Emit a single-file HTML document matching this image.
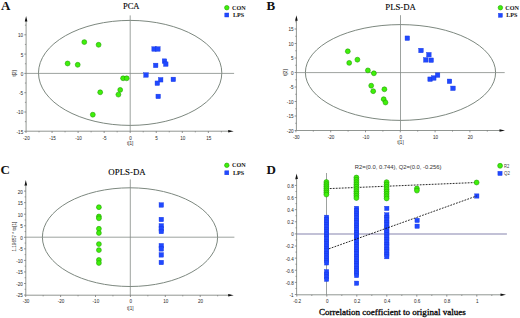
<!DOCTYPE html><html><head><meta charset="utf-8"><style>
html,body{margin:0;padding:0;background:#fff;}svg{display:block;}
.tk{font-family:"Liberation Sans",sans-serif;font-size:4.6px;fill:#262626;}
.lt{font-family:"Liberation Serif",serif;font-weight:bold;font-size:13px;fill:#111;}
.ti{font-family:"Liberation Serif",serif;font-size:8.8px;fill:#000;stroke:#000;stroke-width:0.12px;}
.lg{font-family:"Liberation Serif",serif;font-weight:bold;font-size:6.3px;fill:#111;}
.lgs{font-family:"Liberation Sans",sans-serif;font-size:4.9px;fill:#3a3a3a;}
.al{font-family:"Liberation Sans",sans-serif;font-size:4.6px;fill:#262626;}
</style></head><body>
<svg width="520" height="318" viewBox="0 0 520 318">
<rect width="520" height="318" fill="#fff"/>
<ellipse cx="130.15" cy="72.9" rx="91.65" ry="52.5" fill="none" stroke="#7d887f" stroke-width="1.0"/>
<line x1="26.1" y1="73.4" x2="234.1" y2="73.4" stroke="#848a86" stroke-width="0.8"/>
<line x1="130.2" y1="15.4" x2="130.2" y2="131.2" stroke="#848a86" stroke-width="0.8"/>
<line x1="26.1" y1="131.2" x2="230.7" y2="131.2" stroke="#848a86" stroke-width="0.9"/>
<line x1="26.1" y1="131.2" x2="26.1" y2="19.0" stroke="#848a86" stroke-width="0.9"/>
<path d="M233.7,131.2 L228.2,129.89999999999998 L228.2,132.5 Z" fill="#111"/>
<path d="M26.1,16.0 L24.8,21.5 L27.400000000000002,21.5 Z" fill="#111"/>
<line x1="26.00" y1="131.2" x2="26.00" y2="133.0" stroke="#666" stroke-width="0.7"/>
<text x="26.40" y="139.5" class="tk" text-anchor="middle">-20</text>
<line x1="52.05" y1="131.2" x2="52.05" y2="133.0" stroke="#666" stroke-width="0.7"/>
<text x="52.45" y="139.5" class="tk" text-anchor="middle">-15</text>
<line x1="78.10" y1="131.2" x2="78.10" y2="133.0" stroke="#666" stroke-width="0.7"/>
<text x="78.50" y="139.5" class="tk" text-anchor="middle">-10</text>
<line x1="104.15" y1="131.2" x2="104.15" y2="133.0" stroke="#666" stroke-width="0.7"/>
<text x="104.55" y="139.5" class="tk" text-anchor="middle">-5</text>
<line x1="130.20" y1="131.2" x2="130.20" y2="133.0" stroke="#666" stroke-width="0.7"/>
<text x="130.60" y="139.5" class="tk" text-anchor="middle">0</text>
<line x1="156.25" y1="131.2" x2="156.25" y2="133.0" stroke="#666" stroke-width="0.7"/>
<text x="156.65" y="139.5" class="tk" text-anchor="middle">5</text>
<line x1="182.30" y1="131.2" x2="182.30" y2="133.0" stroke="#666" stroke-width="0.7"/>
<text x="182.70" y="139.5" class="tk" text-anchor="middle">10</text>
<line x1="208.35" y1="131.2" x2="208.35" y2="133.0" stroke="#666" stroke-width="0.7"/>
<text x="208.75" y="139.5" class="tk" text-anchor="middle">15</text>
<line x1="39.02" y1="131.2" x2="39.02" y2="132.39999999999998" stroke="#666" stroke-width="0.6"/>
<line x1="65.07" y1="131.2" x2="65.07" y2="132.39999999999998" stroke="#666" stroke-width="0.6"/>
<line x1="91.12" y1="131.2" x2="91.12" y2="132.39999999999998" stroke="#666" stroke-width="0.6"/>
<line x1="117.17" y1="131.2" x2="117.17" y2="132.39999999999998" stroke="#666" stroke-width="0.6"/>
<line x1="143.22" y1="131.2" x2="143.22" y2="132.39999999999998" stroke="#666" stroke-width="0.6"/>
<line x1="169.27" y1="131.2" x2="169.27" y2="132.39999999999998" stroke="#666" stroke-width="0.6"/>
<line x1="195.32" y1="131.2" x2="195.32" y2="132.39999999999998" stroke="#666" stroke-width="0.6"/>
<line x1="221.38" y1="131.2" x2="221.38" y2="132.39999999999998" stroke="#666" stroke-width="0.6"/>
<line x1="26.1" y1="131.30" x2="24.3" y2="131.30" stroke="#666" stroke-width="0.7"/>
<text x="23.20" y="133.70" class="tk" text-anchor="end">-15</text>
<line x1="26.1" y1="112.00" x2="24.3" y2="112.00" stroke="#666" stroke-width="0.7"/>
<text x="23.20" y="114.40" class="tk" text-anchor="end">-10</text>
<line x1="26.1" y1="92.70" x2="24.3" y2="92.70" stroke="#666" stroke-width="0.7"/>
<text x="23.20" y="95.10" class="tk" text-anchor="end">-5</text>
<line x1="26.1" y1="73.40" x2="24.3" y2="73.40" stroke="#666" stroke-width="0.7"/>
<text x="23.20" y="75.80" class="tk" text-anchor="end">0</text>
<line x1="26.1" y1="54.10" x2="24.3" y2="54.10" stroke="#666" stroke-width="0.7"/>
<text x="23.20" y="56.50" class="tk" text-anchor="end">5</text>
<line x1="26.1" y1="34.80" x2="24.3" y2="34.80" stroke="#666" stroke-width="0.7"/>
<text x="23.20" y="37.20" class="tk" text-anchor="end">10</text>
<line x1="26.1" y1="121.65" x2="24.900000000000002" y2="121.65" stroke="#666" stroke-width="0.6"/>
<line x1="26.1" y1="102.35" x2="24.900000000000002" y2="102.35" stroke="#666" stroke-width="0.6"/>
<line x1="26.1" y1="83.05" x2="24.900000000000002" y2="83.05" stroke="#666" stroke-width="0.6"/>
<line x1="26.1" y1="63.75" x2="24.900000000000002" y2="63.75" stroke="#666" stroke-width="0.6"/>
<line x1="26.1" y1="44.45" x2="24.900000000000002" y2="44.45" stroke="#666" stroke-width="0.6"/>
<line x1="26.1" y1="25.15" x2="24.900000000000002" y2="25.15" stroke="#666" stroke-width="0.6"/>
<text x="1" y="9.8" class="lt">A</text>
<text x="131.2" y="9.3" class="ti" text-anchor="middle" textLength="16.6" lengthAdjust="spacingAndGlyphs">PCA</text>
<text x="130.2" y="144.7" class="al" text-anchor="middle">t[1]</text>
<text transform="translate(16.2,73.4) rotate(-90)" class="al" text-anchor="middle">t[2]</text>
<circle cx="84.30" cy="42.10" r="2.45" fill="#3ff00a" stroke="#1fa000" stroke-width="0.6"/>
<circle cx="98.60" cy="44.80" r="2.45" fill="#3ff00a" stroke="#1fa000" stroke-width="0.6"/>
<circle cx="67.60" cy="63.50" r="2.45" fill="#3ff00a" stroke="#1fa000" stroke-width="0.6"/>
<circle cx="77.70" cy="64.80" r="2.45" fill="#3ff00a" stroke="#1fa000" stroke-width="0.6"/>
<circle cx="123.10" cy="78.30" r="2.45" fill="#3ff00a" stroke="#1fa000" stroke-width="0.6"/>
<circle cx="126.70" cy="78.30" r="2.45" fill="#3ff00a" stroke="#1fa000" stroke-width="0.6"/>
<circle cx="100.20" cy="92.30" r="2.45" fill="#3ff00a" stroke="#1fa000" stroke-width="0.6"/>
<circle cx="120.20" cy="89.90" r="2.45" fill="#3ff00a" stroke="#1fa000" stroke-width="0.6"/>
<circle cx="118.40" cy="94.60" r="2.45" fill="#3ff00a" stroke="#1fa000" stroke-width="0.6"/>
<circle cx="92.80" cy="114.70" r="2.45" fill="#3ff00a" stroke="#1fa000" stroke-width="0.6"/>
<rect x="151.85" y="46.75" width="4.5" height="4.5" fill="#2049ff" stroke="#1634e0" stroke-width="0.4"/>
<rect x="155.65" y="46.75" width="4.5" height="4.5" fill="#2049ff" stroke="#1634e0" stroke-width="0.4"/>
<rect x="153.45" y="63.15" width="4.5" height="4.5" fill="#2049ff" stroke="#1634e0" stroke-width="0.4"/>
<rect x="162.25" y="58.85" width="4.5" height="4.5" fill="#2049ff" stroke="#1634e0" stroke-width="0.4"/>
<rect x="163.55" y="61.85" width="4.5" height="4.5" fill="#2049ff" stroke="#1634e0" stroke-width="0.4"/>
<rect x="143.75" y="72.75" width="4.5" height="4.5" fill="#2049ff" stroke="#1634e0" stroke-width="0.4"/>
<rect x="158.45" y="77.55" width="4.5" height="4.5" fill="#2049ff" stroke="#1634e0" stroke-width="0.4"/>
<rect x="155.05" y="80.95" width="4.5" height="4.5" fill="#2049ff" stroke="#1634e0" stroke-width="0.4"/>
<rect x="171.05" y="77.15" width="4.5" height="4.5" fill="#2049ff" stroke="#1634e0" stroke-width="0.4"/>
<rect x="155.95" y="94.15" width="4.5" height="4.5" fill="#2049ff" stroke="#1634e0" stroke-width="0.4"/>
<circle cx="226.80" cy="7.70" r="2.25" fill="#3ff00a" stroke="#1fa000" stroke-width="0.6"/>
<rect x="224.80" y="13.00" width="4.0" height="4.0" fill="#2049ff" stroke="#1634e0" stroke-width="0.4"/>
<text x="232" y="9.80" class="lg" textLength="13.6" lengthAdjust="spacingAndGlyphs">CON</text>
<text x="232.9" y="16.95" class="lg" textLength="11.2" lengthAdjust="spacingAndGlyphs">LPS</text>
<ellipse cx="400.5" cy="72.5" rx="95.1" ry="47.9" fill="none" stroke="#7d887f" stroke-width="1.0"/>
<line x1="296.4" y1="72.6" x2="504.7" y2="72.6" stroke="#848a86" stroke-width="0.8"/>
<line x1="400.5" y1="15.2" x2="400.5" y2="130.5" stroke="#848a86" stroke-width="0.8"/>
<line x1="296.4" y1="130.5" x2="502.0" y2="130.5" stroke="#848a86" stroke-width="0.9"/>
<line x1="296.4" y1="130.5" x2="296.4" y2="18.3" stroke="#848a86" stroke-width="0.9"/>
<path d="M505.0,130.5 L499.5,129.2 L499.5,131.8 Z" fill="#111"/>
<path d="M296.4,15.3 L295.09999999999997,20.8 L297.7,20.8 Z" fill="#111"/>
<line x1="295.90" y1="130.5" x2="295.90" y2="132.3" stroke="#666" stroke-width="0.7"/>
<text x="296.30" y="138.7" class="tk" text-anchor="middle">-30</text>
<line x1="330.70" y1="130.5" x2="330.70" y2="132.3" stroke="#666" stroke-width="0.7"/>
<text x="331.10" y="138.7" class="tk" text-anchor="middle">-20</text>
<line x1="365.50" y1="130.5" x2="365.50" y2="132.3" stroke="#666" stroke-width="0.7"/>
<text x="365.90" y="138.7" class="tk" text-anchor="middle">-10</text>
<line x1="400.30" y1="130.5" x2="400.30" y2="132.3" stroke="#666" stroke-width="0.7"/>
<text x="400.70" y="138.7" class="tk" text-anchor="middle">0</text>
<line x1="435.10" y1="130.5" x2="435.10" y2="132.3" stroke="#666" stroke-width="0.7"/>
<text x="435.50" y="138.7" class="tk" text-anchor="middle">10</text>
<line x1="469.90" y1="130.5" x2="469.90" y2="132.3" stroke="#666" stroke-width="0.7"/>
<text x="470.30" y="138.7" class="tk" text-anchor="middle">20</text>
<line x1="313.30" y1="130.5" x2="313.30" y2="131.7" stroke="#666" stroke-width="0.6"/>
<line x1="348.10" y1="130.5" x2="348.10" y2="131.7" stroke="#666" stroke-width="0.6"/>
<line x1="382.90" y1="130.5" x2="382.90" y2="131.7" stroke="#666" stroke-width="0.6"/>
<line x1="417.70" y1="130.5" x2="417.70" y2="131.7" stroke="#666" stroke-width="0.6"/>
<line x1="452.50" y1="130.5" x2="452.50" y2="131.7" stroke="#666" stroke-width="0.6"/>
<line x1="487.30" y1="130.5" x2="487.30" y2="131.7" stroke="#666" stroke-width="0.6"/>
<line x1="296.4" y1="130.50" x2="294.59999999999997" y2="130.50" stroke="#666" stroke-width="0.7"/>
<text x="293.50" y="132.90" class="tk" text-anchor="end">-20</text>
<line x1="296.4" y1="116.00" x2="294.59999999999997" y2="116.00" stroke="#666" stroke-width="0.7"/>
<text x="293.50" y="118.40" class="tk" text-anchor="end">-15</text>
<line x1="296.4" y1="101.50" x2="294.59999999999997" y2="101.50" stroke="#666" stroke-width="0.7"/>
<text x="293.50" y="103.90" class="tk" text-anchor="end">-10</text>
<line x1="296.4" y1="87.00" x2="294.59999999999997" y2="87.00" stroke="#666" stroke-width="0.7"/>
<text x="293.50" y="89.40" class="tk" text-anchor="end">-5</text>
<line x1="296.4" y1="72.50" x2="294.59999999999997" y2="72.50" stroke="#666" stroke-width="0.7"/>
<text x="293.50" y="74.90" class="tk" text-anchor="end">0</text>
<line x1="296.4" y1="58.00" x2="294.59999999999997" y2="58.00" stroke="#666" stroke-width="0.7"/>
<text x="293.50" y="60.40" class="tk" text-anchor="end">5</text>
<line x1="296.4" y1="43.50" x2="294.59999999999997" y2="43.50" stroke="#666" stroke-width="0.7"/>
<text x="293.50" y="45.90" class="tk" text-anchor="end">10</text>
<line x1="296.4" y1="29.00" x2="294.59999999999997" y2="29.00" stroke="#666" stroke-width="0.7"/>
<text x="293.50" y="31.40" class="tk" text-anchor="end">15</text>
<line x1="296.4" y1="123.25" x2="295.2" y2="123.25" stroke="#666" stroke-width="0.6"/>
<line x1="296.4" y1="108.75" x2="295.2" y2="108.75" stroke="#666" stroke-width="0.6"/>
<line x1="296.4" y1="94.25" x2="295.2" y2="94.25" stroke="#666" stroke-width="0.6"/>
<line x1="296.4" y1="79.75" x2="295.2" y2="79.75" stroke="#666" stroke-width="0.6"/>
<line x1="296.4" y1="65.25" x2="295.2" y2="65.25" stroke="#666" stroke-width="0.6"/>
<line x1="296.4" y1="50.75" x2="295.2" y2="50.75" stroke="#666" stroke-width="0.6"/>
<line x1="296.4" y1="36.25" x2="295.2" y2="36.25" stroke="#666" stroke-width="0.6"/>
<line x1="296.4" y1="21.75" x2="295.2" y2="21.75" stroke="#666" stroke-width="0.6"/>
<text x="266.5" y="9.8" class="lt">B</text>
<text x="400.6" y="9.8" class="ti" text-anchor="middle" textLength="30.6" lengthAdjust="spacingAndGlyphs">PLS-DA</text>
<text x="400.5" y="144.4" class="al" text-anchor="middle">t[1]</text>
<text transform="translate(286.6,72.5) rotate(-90)" class="al" text-anchor="middle">t[2]</text>
<circle cx="347.80" cy="51.30" r="2.45" fill="#3ff00a" stroke="#1fa000" stroke-width="0.6"/>
<circle cx="349.20" cy="62.90" r="2.45" fill="#3ff00a" stroke="#1fa000" stroke-width="0.6"/>
<circle cx="357.40" cy="59.70" r="2.45" fill="#3ff00a" stroke="#1fa000" stroke-width="0.6"/>
<circle cx="367.90" cy="70.40" r="2.45" fill="#3ff00a" stroke="#1fa000" stroke-width="0.6"/>
<circle cx="373.90" cy="73.30" r="2.45" fill="#3ff00a" stroke="#1fa000" stroke-width="0.6"/>
<circle cx="371.20" cy="85.70" r="2.45" fill="#3ff00a" stroke="#1fa000" stroke-width="0.6"/>
<circle cx="373.20" cy="91.20" r="2.45" fill="#3ff00a" stroke="#1fa000" stroke-width="0.6"/>
<circle cx="384.40" cy="89.30" r="2.45" fill="#3ff00a" stroke="#1fa000" stroke-width="0.6"/>
<circle cx="383.70" cy="99.20" r="2.45" fill="#3ff00a" stroke="#1fa000" stroke-width="0.6"/>
<circle cx="385.50" cy="102.50" r="2.45" fill="#3ff00a" stroke="#1fa000" stroke-width="0.6"/>
<rect x="405.05" y="35.95" width="4.5" height="4.5" fill="#2049ff" stroke="#1634e0" stroke-width="0.4"/>
<rect x="418.75" y="48.25" width="4.5" height="4.5" fill="#2049ff" stroke="#1634e0" stroke-width="0.4"/>
<rect x="426.65" y="52.45" width="4.5" height="4.5" fill="#2049ff" stroke="#1634e0" stroke-width="0.4"/>
<rect x="423.55" y="57.65" width="4.5" height="4.5" fill="#2049ff" stroke="#1634e0" stroke-width="0.4"/>
<rect x="428.95" y="57.95" width="4.5" height="4.5" fill="#2049ff" stroke="#1634e0" stroke-width="0.4"/>
<rect x="427.85" y="76.95" width="4.5" height="4.5" fill="#2049ff" stroke="#1634e0" stroke-width="0.4"/>
<rect x="431.55" y="75.75" width="4.5" height="4.5" fill="#2049ff" stroke="#1634e0" stroke-width="0.4"/>
<rect x="435.35" y="72.85" width="4.5" height="4.5" fill="#2049ff" stroke="#1634e0" stroke-width="0.4"/>
<rect x="447.25" y="79.05" width="4.5" height="4.5" fill="#2049ff" stroke="#1634e0" stroke-width="0.4"/>
<rect x="450.75" y="86.05" width="4.5" height="4.5" fill="#2049ff" stroke="#1634e0" stroke-width="0.4"/>
<circle cx="500.40" cy="7.70" r="2.25" fill="#3ff00a" stroke="#1fa000" stroke-width="0.6"/>
<rect x="498.40" y="13.30" width="4.0" height="4.0" fill="#2049ff" stroke="#1634e0" stroke-width="0.4"/>
<text x="505.3" y="9.80" class="lg" textLength="13.6" lengthAdjust="spacingAndGlyphs">CON</text>
<text x="506.2" y="17.25" class="lg" textLength="11.2" lengthAdjust="spacingAndGlyphs">LPS</text>
<ellipse cx="130" cy="237.15" rx="87.6" ry="49.35" fill="none" stroke="#7d887f" stroke-width="1.0"/>
<line x1="25.8" y1="237.2" x2="234.4" y2="237.2" stroke="#848a86" stroke-width="0.8"/>
<line x1="130.3" y1="179.4" x2="130.3" y2="295.2" stroke="#848a86" stroke-width="0.8"/>
<line x1="25.8" y1="295.2" x2="230.7" y2="295.2" stroke="#848a86" stroke-width="0.9"/>
<line x1="25.8" y1="295.2" x2="25.8" y2="183.0" stroke="#848a86" stroke-width="0.9"/>
<path d="M233.7,295.2 L228.2,293.9 L228.2,296.5 Z" fill="#111"/>
<path d="M25.8,180.0 L24.5,185.5 L27.1,185.5 Z" fill="#111"/>
<line x1="25.70" y1="295.2" x2="25.70" y2="297.0" stroke="#666" stroke-width="0.7"/>
<text x="26.10" y="302.9" class="tk" text-anchor="middle">-30</text>
<line x1="60.60" y1="295.2" x2="60.60" y2="297.0" stroke="#666" stroke-width="0.7"/>
<text x="61.00" y="302.9" class="tk" text-anchor="middle">-20</text>
<line x1="95.50" y1="295.2" x2="95.50" y2="297.0" stroke="#666" stroke-width="0.7"/>
<text x="95.90" y="302.9" class="tk" text-anchor="middle">-10</text>
<line x1="130.40" y1="295.2" x2="130.40" y2="297.0" stroke="#666" stroke-width="0.7"/>
<text x="130.80" y="302.9" class="tk" text-anchor="middle">0</text>
<line x1="165.30" y1="295.2" x2="165.30" y2="297.0" stroke="#666" stroke-width="0.7"/>
<text x="165.70" y="302.9" class="tk" text-anchor="middle">10</text>
<line x1="200.20" y1="295.2" x2="200.20" y2="297.0" stroke="#666" stroke-width="0.7"/>
<text x="200.60" y="302.9" class="tk" text-anchor="middle">20</text>
<line x1="43.15" y1="295.2" x2="43.15" y2="296.4" stroke="#666" stroke-width="0.6"/>
<line x1="78.05" y1="295.2" x2="78.05" y2="296.4" stroke="#666" stroke-width="0.6"/>
<line x1="112.95" y1="295.2" x2="112.95" y2="296.4" stroke="#666" stroke-width="0.6"/>
<line x1="147.85" y1="295.2" x2="147.85" y2="296.4" stroke="#666" stroke-width="0.6"/>
<line x1="182.75" y1="295.2" x2="182.75" y2="296.4" stroke="#666" stroke-width="0.6"/>
<line x1="217.65" y1="295.2" x2="217.65" y2="296.4" stroke="#666" stroke-width="0.6"/>
<line x1="25.8" y1="295.05" x2="24.0" y2="295.05" stroke="#666" stroke-width="0.7"/>
<text x="22.90" y="297.45" class="tk" text-anchor="end">-25</text>
<line x1="25.8" y1="283.50" x2="24.0" y2="283.50" stroke="#666" stroke-width="0.7"/>
<text x="22.90" y="285.90" class="tk" text-anchor="end">-20</text>
<line x1="25.8" y1="271.95" x2="24.0" y2="271.95" stroke="#666" stroke-width="0.7"/>
<text x="22.90" y="274.35" class="tk" text-anchor="end">-15</text>
<line x1="25.8" y1="260.40" x2="24.0" y2="260.40" stroke="#666" stroke-width="0.7"/>
<text x="22.90" y="262.80" class="tk" text-anchor="end">-10</text>
<line x1="25.8" y1="248.85" x2="24.0" y2="248.85" stroke="#666" stroke-width="0.7"/>
<text x="22.90" y="251.25" class="tk" text-anchor="end">-5</text>
<line x1="25.8" y1="237.30" x2="24.0" y2="237.30" stroke="#666" stroke-width="0.7"/>
<text x="22.90" y="239.70" class="tk" text-anchor="end">0</text>
<line x1="25.8" y1="225.75" x2="24.0" y2="225.75" stroke="#666" stroke-width="0.7"/>
<text x="22.90" y="228.15" class="tk" text-anchor="end">5</text>
<line x1="25.8" y1="214.20" x2="24.0" y2="214.20" stroke="#666" stroke-width="0.7"/>
<text x="22.90" y="216.60" class="tk" text-anchor="end">10</text>
<line x1="25.8" y1="202.65" x2="24.0" y2="202.65" stroke="#666" stroke-width="0.7"/>
<text x="22.90" y="205.05" class="tk" text-anchor="end">15</text>
<line x1="25.8" y1="191.10" x2="24.0" y2="191.10" stroke="#666" stroke-width="0.7"/>
<text x="22.90" y="193.50" class="tk" text-anchor="end">20</text>
<line x1="25.8" y1="289.28" x2="24.6" y2="289.28" stroke="#666" stroke-width="0.6"/>
<line x1="25.8" y1="277.73" x2="24.6" y2="277.73" stroke="#666" stroke-width="0.6"/>
<line x1="25.8" y1="266.18" x2="24.6" y2="266.18" stroke="#666" stroke-width="0.6"/>
<line x1="25.8" y1="254.62" x2="24.6" y2="254.62" stroke="#666" stroke-width="0.6"/>
<line x1="25.8" y1="243.08" x2="24.6" y2="243.08" stroke="#666" stroke-width="0.6"/>
<line x1="25.8" y1="231.53" x2="24.6" y2="231.53" stroke="#666" stroke-width="0.6"/>
<line x1="25.8" y1="219.98" x2="24.6" y2="219.98" stroke="#666" stroke-width="0.6"/>
<line x1="25.8" y1="208.43" x2="24.6" y2="208.43" stroke="#666" stroke-width="0.6"/>
<line x1="25.8" y1="196.88" x2="24.6" y2="196.88" stroke="#666" stroke-width="0.6"/>
<line x1="25.8" y1="185.33" x2="24.6" y2="185.33" stroke="#666" stroke-width="0.6"/>
<text x="0.5" y="174.3" class="lt">C</text>
<text x="127" y="174.6" class="ti" text-anchor="middle" textLength="37.3" lengthAdjust="spacingAndGlyphs">OPLS-DA</text>
<text x="130.3" y="309.8" class="al" text-anchor="middle">t[1]</text>
<text transform="translate(15.6,236.6) rotate(-90)" class="al" text-anchor="middle">1.19657 * to[1]</text>
<circle cx="98.90" cy="207.20" r="2.45" fill="#3ff00a" stroke="#1fa000" stroke-width="0.6"/>
<circle cx="98.90" cy="216.50" r="2.45" fill="#3ff00a" stroke="#1fa000" stroke-width="0.6"/>
<circle cx="98.90" cy="218.30" r="2.45" fill="#3ff00a" stroke="#1fa000" stroke-width="0.6"/>
<circle cx="98.90" cy="228.80" r="2.45" fill="#3ff00a" stroke="#1fa000" stroke-width="0.6"/>
<circle cx="98.90" cy="233.00" r="2.45" fill="#3ff00a" stroke="#1fa000" stroke-width="0.6"/>
<circle cx="98.90" cy="244.10" r="2.45" fill="#3ff00a" stroke="#1fa000" stroke-width="0.6"/>
<circle cx="98.90" cy="250.10" r="2.45" fill="#3ff00a" stroke="#1fa000" stroke-width="0.6"/>
<circle cx="98.90" cy="260.00" r="2.45" fill="#3ff00a" stroke="#1fa000" stroke-width="0.6"/>
<circle cx="98.90" cy="263.00" r="2.45" fill="#3ff00a" stroke="#1fa000" stroke-width="0.6"/>
<rect x="159.05" y="202.75" width="4.5" height="4.5" fill="#2049ff" stroke="#1634e0" stroke-width="0.4"/>
<rect x="159.05" y="217.25" width="4.5" height="4.5" fill="#2049ff" stroke="#1634e0" stroke-width="0.4"/>
<rect x="159.05" y="223.65" width="4.5" height="4.5" fill="#2049ff" stroke="#1634e0" stroke-width="0.4"/>
<rect x="159.05" y="226.55" width="4.5" height="4.5" fill="#2049ff" stroke="#1634e0" stroke-width="0.4"/>
<rect x="159.05" y="229.25" width="4.5" height="4.5" fill="#2049ff" stroke="#1634e0" stroke-width="0.4"/>
<rect x="159.05" y="243.45" width="4.5" height="4.5" fill="#2049ff" stroke="#1634e0" stroke-width="0.4"/>
<rect x="159.05" y="246.65" width="4.5" height="4.5" fill="#2049ff" stroke="#1634e0" stroke-width="0.4"/>
<rect x="159.05" y="252.65" width="4.5" height="4.5" fill="#2049ff" stroke="#1634e0" stroke-width="0.4"/>
<rect x="159.05" y="260.25" width="4.5" height="4.5" fill="#2049ff" stroke="#1634e0" stroke-width="0.4"/>
<circle cx="226.80" cy="165.30" r="2.25" fill="#3ff00a" stroke="#1fa000" stroke-width="0.6"/>
<rect x="224.80" y="170.80" width="4.0" height="4.0" fill="#2049ff" stroke="#1634e0" stroke-width="0.4"/>
<text x="232" y="167.40" class="lg" textLength="13.6" lengthAdjust="spacingAndGlyphs">CON</text>
<text x="232.9" y="174.75" class="lg" textLength="11.2" lengthAdjust="spacingAndGlyphs">LPS</text>
<line x1="296.6" y1="234" x2="506.9" y2="234" stroke="#aeadc8" stroke-width="1.5"/>
<line x1="326.5" y1="173" x2="326.5" y2="294.8" stroke="#848a86" stroke-width="0.8"/>
<line x1="296.6" y1="294.8" x2="503.0" y2="294.8" stroke="#848a86" stroke-width="0.9"/>
<line x1="296.6" y1="294.8" x2="296.6" y2="176.6" stroke="#848a86" stroke-width="0.9"/>
<path d="M506.0,294.8 L500.5,293.5 L500.5,296.1 Z" fill="#111"/>
<path d="M296.6,173.6 L295.3,179.1 L297.90000000000003,179.1 Z" fill="#111"/>
<line x1="296.80" y1="294.8" x2="296.80" y2="296.6" stroke="#666" stroke-width="0.7"/>
<text x="297.20" y="302.8" class="tk" text-anchor="middle">-0.2</text>
<line x1="326.80" y1="294.8" x2="326.80" y2="296.6" stroke="#666" stroke-width="0.7"/>
<text x="327.20" y="302.8" class="tk" text-anchor="middle">0</text>
<line x1="356.80" y1="294.8" x2="356.80" y2="296.6" stroke="#666" stroke-width="0.7"/>
<text x="357.20" y="302.8" class="tk" text-anchor="middle">0.2</text>
<line x1="386.80" y1="294.8" x2="386.80" y2="296.6" stroke="#666" stroke-width="0.7"/>
<text x="387.20" y="302.8" class="tk" text-anchor="middle">0.4</text>
<line x1="416.80" y1="294.8" x2="416.80" y2="296.6" stroke="#666" stroke-width="0.7"/>
<text x="417.20" y="302.8" class="tk" text-anchor="middle">0.6</text>
<line x1="446.80" y1="294.8" x2="446.80" y2="296.6" stroke="#666" stroke-width="0.7"/>
<text x="447.20" y="302.8" class="tk" text-anchor="middle">0.8</text>
<line x1="476.80" y1="294.8" x2="476.80" y2="296.6" stroke="#666" stroke-width="0.7"/>
<text x="477.20" y="302.8" class="tk" text-anchor="middle">1</text>
<line x1="311.80" y1="294.8" x2="311.80" y2="296.0" stroke="#666" stroke-width="0.6"/>
<line x1="341.80" y1="294.8" x2="341.80" y2="296.0" stroke="#666" stroke-width="0.6"/>
<line x1="371.80" y1="294.8" x2="371.80" y2="296.0" stroke="#666" stroke-width="0.6"/>
<line x1="401.80" y1="294.8" x2="401.80" y2="296.0" stroke="#666" stroke-width="0.6"/>
<line x1="431.80" y1="294.8" x2="431.80" y2="296.0" stroke="#666" stroke-width="0.6"/>
<line x1="461.80" y1="294.8" x2="461.80" y2="296.0" stroke="#666" stroke-width="0.6"/>
<line x1="491.80" y1="294.8" x2="491.80" y2="296.0" stroke="#666" stroke-width="0.6"/>
<line x1="296.6" y1="294.50" x2="294.8" y2="294.50" stroke="#666" stroke-width="0.7"/>
<text x="293.70" y="296.90" class="tk" text-anchor="end">-1</text>
<line x1="296.6" y1="282.38" x2="294.8" y2="282.38" stroke="#666" stroke-width="0.7"/>
<text x="293.70" y="284.78" class="tk" text-anchor="end">-0.8</text>
<line x1="296.6" y1="270.26" x2="294.8" y2="270.26" stroke="#666" stroke-width="0.7"/>
<text x="293.70" y="272.66" class="tk" text-anchor="end">-0.6</text>
<line x1="296.6" y1="258.14" x2="294.8" y2="258.14" stroke="#666" stroke-width="0.7"/>
<text x="293.70" y="260.54" class="tk" text-anchor="end">-0.4</text>
<line x1="296.6" y1="246.02" x2="294.8" y2="246.02" stroke="#666" stroke-width="0.7"/>
<text x="293.70" y="248.42" class="tk" text-anchor="end">-0.2</text>
<line x1="296.6" y1="233.90" x2="294.8" y2="233.90" stroke="#666" stroke-width="0.7"/>
<text x="293.70" y="236.30" class="tk" text-anchor="end">0</text>
<line x1="296.6" y1="221.78" x2="294.8" y2="221.78" stroke="#666" stroke-width="0.7"/>
<text x="293.70" y="224.18" class="tk" text-anchor="end">0.2</text>
<line x1="296.6" y1="209.66" x2="294.8" y2="209.66" stroke="#666" stroke-width="0.7"/>
<text x="293.70" y="212.06" class="tk" text-anchor="end">0.4</text>
<line x1="296.6" y1="197.54" x2="294.8" y2="197.54" stroke="#666" stroke-width="0.7"/>
<text x="293.70" y="199.94" class="tk" text-anchor="end">0.6</text>
<line x1="296.6" y1="185.42" x2="294.8" y2="185.42" stroke="#666" stroke-width="0.7"/>
<text x="293.70" y="187.82" class="tk" text-anchor="end">0.8</text>
<line x1="296.6" y1="288.44" x2="295.40000000000003" y2="288.44" stroke="#666" stroke-width="0.6"/>
<line x1="296.6" y1="276.32" x2="295.40000000000003" y2="276.32" stroke="#666" stroke-width="0.6"/>
<line x1="296.6" y1="264.20" x2="295.40000000000003" y2="264.20" stroke="#666" stroke-width="0.6"/>
<line x1="296.6" y1="252.08" x2="295.40000000000003" y2="252.08" stroke="#666" stroke-width="0.6"/>
<line x1="296.6" y1="239.96" x2="295.40000000000003" y2="239.96" stroke="#666" stroke-width="0.6"/>
<line x1="296.6" y1="227.84" x2="295.40000000000003" y2="227.84" stroke="#666" stroke-width="0.6"/>
<line x1="296.6" y1="215.72" x2="295.40000000000003" y2="215.72" stroke="#666" stroke-width="0.6"/>
<line x1="296.6" y1="203.60" x2="295.40000000000003" y2="203.60" stroke="#666" stroke-width="0.6"/>
<line x1="296.6" y1="191.48" x2="295.40000000000003" y2="191.48" stroke="#666" stroke-width="0.6"/>
<line x1="296.6" y1="179.36" x2="295.40000000000003" y2="179.36" stroke="#666" stroke-width="0.6"/>
<text x="266.5" y="174.3" class="lt">D</text>
<text x="354.8" y="168.8" style="font-family:'Liberation Sans',sans-serif;font-size:6.2px;fill:#333" textLength="86.7" lengthAdjust="spacingAndGlyphs">R2=(0.0, 0.744), Q2=(0.0, -0.256)</text>
<text x="318.9" y="315.4" style="font-family:'Liberation Serif',serif;font-size:9px;fill:#000;stroke:#000;stroke-width:0.3px" textLength="146.9" lengthAdjust="spacingAndGlyphs">Correlation coefficient to original values</text>
<rect x="324.45" y="215.15" width="4.3" height="4.3" fill="#2049ff" stroke="#1634e0" stroke-width="0.4"/>
<rect x="324.45" y="217.55" width="4.3" height="4.3" fill="#2049ff" stroke="#1634e0" stroke-width="0.4"/>
<rect x="324.45" y="219.95" width="4.3" height="4.3" fill="#2049ff" stroke="#1634e0" stroke-width="0.4"/>
<rect x="324.45" y="222.35" width="4.3" height="4.3" fill="#2049ff" stroke="#1634e0" stroke-width="0.4"/>
<rect x="324.45" y="224.75" width="4.3" height="4.3" fill="#2049ff" stroke="#1634e0" stroke-width="0.4"/>
<rect x="324.45" y="227.15" width="4.3" height="4.3" fill="#2049ff" stroke="#1634e0" stroke-width="0.4"/>
<rect x="324.45" y="229.55" width="4.3" height="4.3" fill="#2049ff" stroke="#1634e0" stroke-width="0.4"/>
<rect x="324.45" y="231.95" width="4.3" height="4.3" fill="#2049ff" stroke="#1634e0" stroke-width="0.4"/>
<rect x="324.45" y="234.35" width="4.3" height="4.3" fill="#2049ff" stroke="#1634e0" stroke-width="0.4"/>
<rect x="324.45" y="236.75" width="4.3" height="4.3" fill="#2049ff" stroke="#1634e0" stroke-width="0.4"/>
<rect x="324.45" y="239.15" width="4.3" height="4.3" fill="#2049ff" stroke="#1634e0" stroke-width="0.4"/>
<rect x="324.45" y="241.55" width="4.3" height="4.3" fill="#2049ff" stroke="#1634e0" stroke-width="0.4"/>
<rect x="324.45" y="243.95" width="4.3" height="4.3" fill="#2049ff" stroke="#1634e0" stroke-width="0.4"/>
<rect x="324.45" y="246.35" width="4.3" height="4.3" fill="#2049ff" stroke="#1634e0" stroke-width="0.4"/>
<rect x="324.45" y="248.75" width="4.3" height="4.3" fill="#2049ff" stroke="#1634e0" stroke-width="0.4"/>
<rect x="324.45" y="251.15" width="4.3" height="4.3" fill="#2049ff" stroke="#1634e0" stroke-width="0.4"/>
<rect x="324.45" y="253.55" width="4.3" height="4.3" fill="#2049ff" stroke="#1634e0" stroke-width="0.4"/>
<rect x="324.45" y="255.95" width="4.3" height="4.3" fill="#2049ff" stroke="#1634e0" stroke-width="0.4"/>
<rect x="324.45" y="258.35" width="4.3" height="4.3" fill="#2049ff" stroke="#1634e0" stroke-width="0.4"/>
<rect x="324.45" y="260.75" width="4.3" height="4.3" fill="#2049ff" stroke="#1634e0" stroke-width="0.4"/>
<rect x="324.45" y="269.55" width="4.3" height="4.3" fill="#2049ff" stroke="#1634e0" stroke-width="0.4"/>
<rect x="324.45" y="272.08" width="4.3" height="4.3" fill="#2049ff" stroke="#1634e0" stroke-width="0.4"/>
<rect x="324.45" y="274.62" width="4.3" height="4.3" fill="#2049ff" stroke="#1634e0" stroke-width="0.4"/>
<rect x="324.45" y="277.15" width="4.3" height="4.3" fill="#2049ff" stroke="#1634e0" stroke-width="0.4"/>
<rect x="354.45" y="206.25" width="4.3" height="4.3" fill="#2049ff" stroke="#1634e0" stroke-width="0.4"/>
<rect x="354.45" y="208.65" width="4.3" height="4.3" fill="#2049ff" stroke="#1634e0" stroke-width="0.4"/>
<rect x="354.45" y="211.04" width="4.3" height="4.3" fill="#2049ff" stroke="#1634e0" stroke-width="0.4"/>
<rect x="354.45" y="213.44" width="4.3" height="4.3" fill="#2049ff" stroke="#1634e0" stroke-width="0.4"/>
<rect x="354.45" y="215.84" width="4.3" height="4.3" fill="#2049ff" stroke="#1634e0" stroke-width="0.4"/>
<rect x="354.45" y="218.23" width="4.3" height="4.3" fill="#2049ff" stroke="#1634e0" stroke-width="0.4"/>
<rect x="354.45" y="220.63" width="4.3" height="4.3" fill="#2049ff" stroke="#1634e0" stroke-width="0.4"/>
<rect x="354.45" y="223.03" width="4.3" height="4.3" fill="#2049ff" stroke="#1634e0" stroke-width="0.4"/>
<rect x="354.45" y="225.42" width="4.3" height="4.3" fill="#2049ff" stroke="#1634e0" stroke-width="0.4"/>
<rect x="354.45" y="227.82" width="4.3" height="4.3" fill="#2049ff" stroke="#1634e0" stroke-width="0.4"/>
<rect x="354.45" y="230.21" width="4.3" height="4.3" fill="#2049ff" stroke="#1634e0" stroke-width="0.4"/>
<rect x="354.45" y="232.61" width="4.3" height="4.3" fill="#2049ff" stroke="#1634e0" stroke-width="0.4"/>
<rect x="354.45" y="235.01" width="4.3" height="4.3" fill="#2049ff" stroke="#1634e0" stroke-width="0.4"/>
<rect x="354.45" y="237.40" width="4.3" height="4.3" fill="#2049ff" stroke="#1634e0" stroke-width="0.4"/>
<rect x="354.45" y="239.80" width="4.3" height="4.3" fill="#2049ff" stroke="#1634e0" stroke-width="0.4"/>
<rect x="354.45" y="242.20" width="4.3" height="4.3" fill="#2049ff" stroke="#1634e0" stroke-width="0.4"/>
<rect x="354.45" y="244.59" width="4.3" height="4.3" fill="#2049ff" stroke="#1634e0" stroke-width="0.4"/>
<rect x="354.45" y="246.99" width="4.3" height="4.3" fill="#2049ff" stroke="#1634e0" stroke-width="0.4"/>
<rect x="354.45" y="249.39" width="4.3" height="4.3" fill="#2049ff" stroke="#1634e0" stroke-width="0.4"/>
<rect x="354.45" y="251.78" width="4.3" height="4.3" fill="#2049ff" stroke="#1634e0" stroke-width="0.4"/>
<rect x="354.45" y="254.18" width="4.3" height="4.3" fill="#2049ff" stroke="#1634e0" stroke-width="0.4"/>
<rect x="354.45" y="256.58" width="4.3" height="4.3" fill="#2049ff" stroke="#1634e0" stroke-width="0.4"/>
<rect x="354.45" y="258.97" width="4.3" height="4.3" fill="#2049ff" stroke="#1634e0" stroke-width="0.4"/>
<rect x="354.45" y="261.37" width="4.3" height="4.3" fill="#2049ff" stroke="#1634e0" stroke-width="0.4"/>
<rect x="354.45" y="263.76" width="4.3" height="4.3" fill="#2049ff" stroke="#1634e0" stroke-width="0.4"/>
<rect x="354.45" y="266.16" width="4.3" height="4.3" fill="#2049ff" stroke="#1634e0" stroke-width="0.4"/>
<rect x="354.45" y="268.56" width="4.3" height="4.3" fill="#2049ff" stroke="#1634e0" stroke-width="0.4"/>
<rect x="354.45" y="270.95" width="4.3" height="4.3" fill="#2049ff" stroke="#1634e0" stroke-width="0.4"/>
<rect x="354.45" y="273.35" width="4.3" height="4.3" fill="#2049ff" stroke="#1634e0" stroke-width="0.4"/>
<rect x="354.45" y="281.05" width="4.3" height="4.3" fill="#2049ff" stroke="#1634e0" stroke-width="0.4"/>
<rect x="384.65" y="206.25" width="4.3" height="4.3" fill="#2049ff" stroke="#1634e0" stroke-width="0.4"/>
<rect x="384.65" y="212.75" width="4.3" height="4.3" fill="#2049ff" stroke="#1634e0" stroke-width="0.4"/>
<rect x="384.65" y="215.21" width="4.3" height="4.3" fill="#2049ff" stroke="#1634e0" stroke-width="0.4"/>
<rect x="384.65" y="217.67" width="4.3" height="4.3" fill="#2049ff" stroke="#1634e0" stroke-width="0.4"/>
<rect x="384.65" y="220.13" width="4.3" height="4.3" fill="#2049ff" stroke="#1634e0" stroke-width="0.4"/>
<rect x="384.65" y="222.59" width="4.3" height="4.3" fill="#2049ff" stroke="#1634e0" stroke-width="0.4"/>
<rect x="384.65" y="225.04" width="4.3" height="4.3" fill="#2049ff" stroke="#1634e0" stroke-width="0.4"/>
<rect x="384.65" y="227.50" width="4.3" height="4.3" fill="#2049ff" stroke="#1634e0" stroke-width="0.4"/>
<rect x="384.65" y="229.96" width="4.3" height="4.3" fill="#2049ff" stroke="#1634e0" stroke-width="0.4"/>
<rect x="384.65" y="232.42" width="4.3" height="4.3" fill="#2049ff" stroke="#1634e0" stroke-width="0.4"/>
<rect x="384.65" y="234.88" width="4.3" height="4.3" fill="#2049ff" stroke="#1634e0" stroke-width="0.4"/>
<rect x="384.65" y="237.34" width="4.3" height="4.3" fill="#2049ff" stroke="#1634e0" stroke-width="0.4"/>
<rect x="384.65" y="239.80" width="4.3" height="4.3" fill="#2049ff" stroke="#1634e0" stroke-width="0.4"/>
<rect x="384.65" y="242.26" width="4.3" height="4.3" fill="#2049ff" stroke="#1634e0" stroke-width="0.4"/>
<rect x="384.65" y="244.71" width="4.3" height="4.3" fill="#2049ff" stroke="#1634e0" stroke-width="0.4"/>
<rect x="384.65" y="247.17" width="4.3" height="4.3" fill="#2049ff" stroke="#1634e0" stroke-width="0.4"/>
<rect x="384.65" y="249.63" width="4.3" height="4.3" fill="#2049ff" stroke="#1634e0" stroke-width="0.4"/>
<rect x="384.65" y="252.09" width="4.3" height="4.3" fill="#2049ff" stroke="#1634e0" stroke-width="0.4"/>
<rect x="384.65" y="254.55" width="4.3" height="4.3" fill="#2049ff" stroke="#1634e0" stroke-width="0.4"/>
<rect x="414.95" y="218.25" width="4.3" height="4.3" fill="#2049ff" stroke="#1634e0" stroke-width="0.4"/>
<rect x="414.95" y="224.05" width="4.3" height="4.3" fill="#2049ff" stroke="#1634e0" stroke-width="0.4"/>
<rect x="474.65" y="193.85" width="4.3" height="4.3" fill="#2049ff" stroke="#1634e0" stroke-width="0.4"/>
<line x1="328.9" y1="248.8" x2="476.6" y2="196.0" stroke="#111" stroke-width="0.9" stroke-dasharray="1.8,1.2"/>
<line x1="326.8" y1="188.7" x2="476.6" y2="182.5" stroke="#111" stroke-width="0.9" stroke-dasharray="1.8,1.2"/>
<circle cx="326.40" cy="182.05" r="2.45" fill="#3ff00a" stroke="#1fa000" stroke-width="0.6"/>
<circle cx="326.40" cy="184.13" r="2.45" fill="#3ff00a" stroke="#1fa000" stroke-width="0.6"/>
<circle cx="326.40" cy="186.22" r="2.45" fill="#3ff00a" stroke="#1fa000" stroke-width="0.6"/>
<circle cx="326.40" cy="188.30" r="2.45" fill="#3ff00a" stroke="#1fa000" stroke-width="0.6"/>
<circle cx="326.40" cy="190.38" r="2.45" fill="#3ff00a" stroke="#1fa000" stroke-width="0.6"/>
<circle cx="326.40" cy="192.47" r="2.45" fill="#3ff00a" stroke="#1fa000" stroke-width="0.6"/>
<circle cx="326.40" cy="194.55" r="2.45" fill="#3ff00a" stroke="#1fa000" stroke-width="0.6"/>
<circle cx="356.40" cy="177.55" r="2.45" fill="#3ff00a" stroke="#1fa000" stroke-width="0.6"/>
<circle cx="356.40" cy="179.83" r="2.45" fill="#3ff00a" stroke="#1fa000" stroke-width="0.6"/>
<circle cx="356.40" cy="182.11" r="2.45" fill="#3ff00a" stroke="#1fa000" stroke-width="0.6"/>
<circle cx="356.40" cy="184.38" r="2.45" fill="#3ff00a" stroke="#1fa000" stroke-width="0.6"/>
<circle cx="356.40" cy="186.66" r="2.45" fill="#3ff00a" stroke="#1fa000" stroke-width="0.6"/>
<circle cx="356.40" cy="188.94" r="2.45" fill="#3ff00a" stroke="#1fa000" stroke-width="0.6"/>
<circle cx="356.40" cy="191.22" r="2.45" fill="#3ff00a" stroke="#1fa000" stroke-width="0.6"/>
<circle cx="356.40" cy="193.49" r="2.45" fill="#3ff00a" stroke="#1fa000" stroke-width="0.6"/>
<circle cx="356.40" cy="195.77" r="2.45" fill="#3ff00a" stroke="#1fa000" stroke-width="0.6"/>
<circle cx="356.40" cy="198.05" r="2.45" fill="#3ff00a" stroke="#1fa000" stroke-width="0.6"/>
<circle cx="386.60" cy="182.15" r="2.45" fill="#3ff00a" stroke="#1fa000" stroke-width="0.6"/>
<circle cx="386.60" cy="184.48" r="2.45" fill="#3ff00a" stroke="#1fa000" stroke-width="0.6"/>
<circle cx="386.60" cy="186.81" r="2.45" fill="#3ff00a" stroke="#1fa000" stroke-width="0.6"/>
<circle cx="386.60" cy="189.14" r="2.45" fill="#3ff00a" stroke="#1fa000" stroke-width="0.6"/>
<circle cx="386.60" cy="191.46" r="2.45" fill="#3ff00a" stroke="#1fa000" stroke-width="0.6"/>
<circle cx="386.60" cy="193.79" r="2.45" fill="#3ff00a" stroke="#1fa000" stroke-width="0.6"/>
<circle cx="386.60" cy="196.12" r="2.45" fill="#3ff00a" stroke="#1fa000" stroke-width="0.6"/>
<circle cx="386.60" cy="198.45" r="2.45" fill="#3ff00a" stroke="#1fa000" stroke-width="0.6"/>
<circle cx="416.90" cy="188.50" r="2.45" fill="#3ff00a" stroke="#1fa000" stroke-width="0.6"/>
<circle cx="416.90" cy="190.60" r="2.45" fill="#3ff00a" stroke="#1fa000" stroke-width="0.6"/>
<circle cx="476.60" cy="182.50" r="2.45" fill="#3ff00a" stroke="#1fa000" stroke-width="0.6"/>
<circle cx="500.10" cy="165.80" r="2.45" fill="#3ff00a" stroke="#1fa000" stroke-width="0.6"/>
<rect x="497.90" y="171.30" width="4.2" height="4.2" fill="#2049ff" stroke="#1634e0" stroke-width="0.4"/>
<text x="504" y="167.6" class="lgs" textLength="5.2" lengthAdjust="spacingAndGlyphs">R2</text>
<text x="504" y="175.3" class="lgs" textLength="5.8" lengthAdjust="spacingAndGlyphs">Q2</text>
</svg></body></html>
